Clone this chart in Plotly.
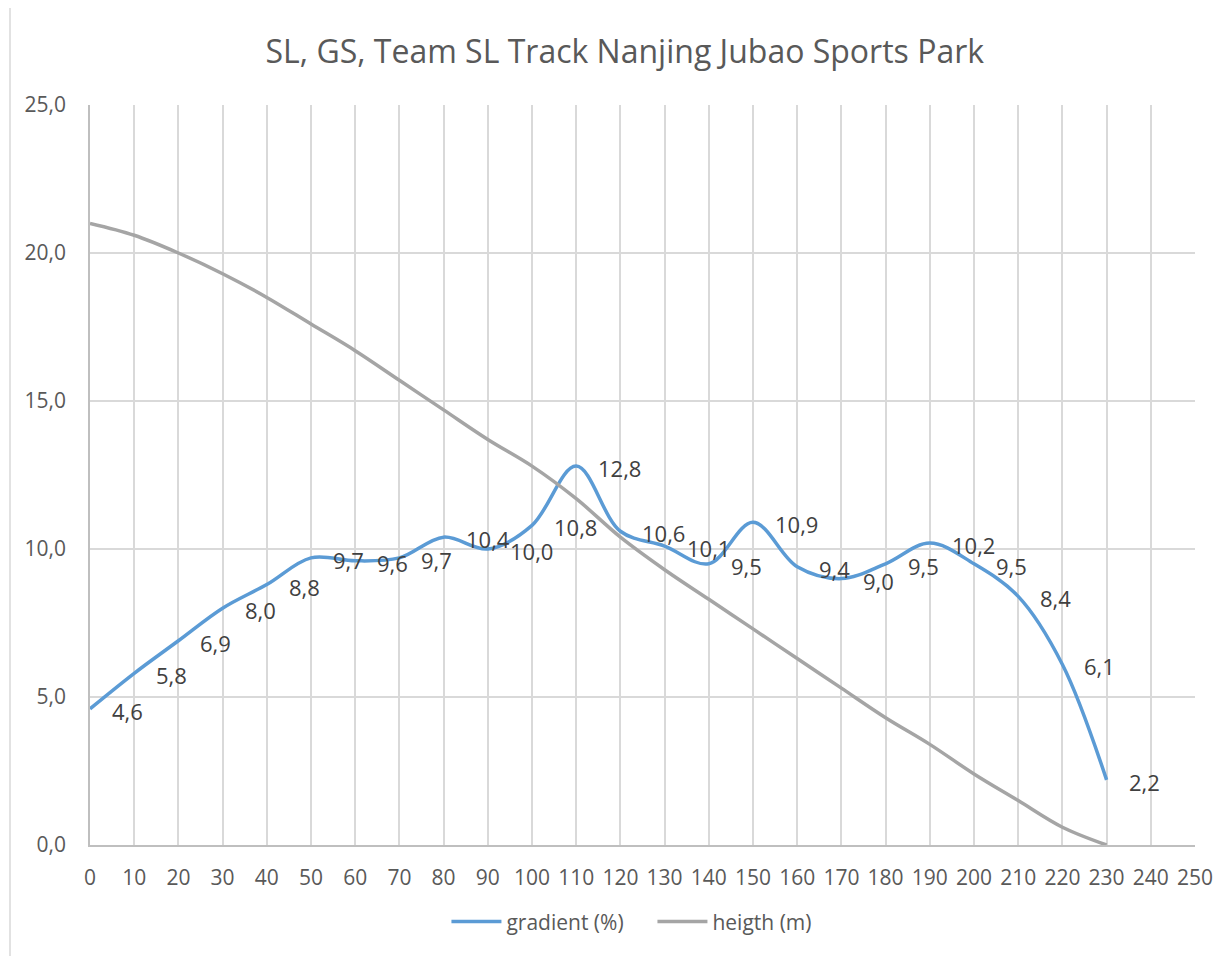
import plotly.graph_objects as go

distance = [0, 10, 20, 30, 40, 50, 60, 70, 80, 90, 100, 110, 120, 130, 140, 150,
            160, 170, 180, 190, 200, 210, 220, 230]
gradient = [4.6, 5.8, 6.9, 8.0, 8.8, 9.7, 9.6, 9.7, 10.4, 10.0, 10.8, 12.8, 10.6, 10.1,
            9.5, 10.9, 9.4, 9.0, 9.5, 10.2, 9.5, 8.4, 6.1, 2.2]
height = [21.0, 20.6, 20.0, 19.3, 18.5, 17.6, 16.7, 15.7, 14.7, 13.7, 12.8, 11.7, 10.4,
          9.3, 8.3, 7.3, 6.3, 5.3, 4.3, 3.4, 2.4, 1.5, 0.6, 0.0]

title_text = "SL, GS, Team SL Track Nanjing Jubao Sports Park"
FONT = "Open Sans"

fig = go.Figure()
fig.add_trace(go.Scatter(x=distance, y=gradient, name="gradient (%)", mode="lines",
                         line=dict(color="#5b9bd5", width=3.5, shape="spline", smoothing=1.0)))
fig.add_trace(go.Scatter(x=distance, y=height, name="heigth (m)", mode="lines",
                         line=dict(color="#a5a5a5", width=3.5, shape="spline", smoothing=1.0)))

for xv, yv in zip(distance, gradient):
    fig.add_annotation(x=xv, y=yv, xref="x", yref="y", text=f"{yv:.1f}".replace(".", ","),
                       showarrow=False, xanchor="left", yanchor="middle", xshift=20, yshift=-2,
                       font=dict(family=FONT, size=22, color="#404040"))

fig.add_shape(type="rect", xref="paper", yref="paper", x0=-0.0724, x1=1.2, y0=-0.4, y1=1.1324,
              line=dict(color="#d9d9d9", width=1.5), fillcolor="rgba(0,0,0,0)", layer="below")

fig.update_layout(
    width=1225, height=956,
    margin=dict(l=82, r=38, t=97, b=119),
    paper_bgcolor="white", plot_bgcolor="white",
    separators=", ",
    title=dict(text=title_text, x=0.484, xref="paper", xanchor="center", y=1 - 44 / 956, yanchor="middle",
               font=dict(family=FONT, size=32, color="#595959")),
    font=dict(family=FONT, size=21, color="#595959"),
    showlegend=True,
    legend=dict(orientation="h", x=0.509, xanchor="center", y=-0.104, yanchor="middle",
                font=dict(family=FONT, size=21, color="#595959"), itemwidth=50,
                entrywidth=141, entrywidthmode="pixels",
                bgcolor="rgba(0,0,0,0)"),
    xaxis=dict(range=[0, 250], dtick=10, tick0=0, showgrid=True, gridcolor="#d9d9d9", gridwidth=1.5,
               showline=True, linecolor="#bfbfbf", linewidth=1.5, zeroline=False,
               ticks="", ticklabelstandoff=13, tickfont=dict(family=FONT, size=21, color="#595959")),
    yaxis=dict(range=[0, 25], dtick=5, tick0=0, tickformat=".1f", showgrid=True, gridcolor="#d9d9d9",
               gridwidth=1.5, showline=True, linecolor="#bfbfbf", linewidth=1.5, zeroline=False,
               ticks="", ticklabelstandoff=18, tickfont=dict(family=FONT, size=21, color="#595959")),
)

fig.write_html("out.html")
